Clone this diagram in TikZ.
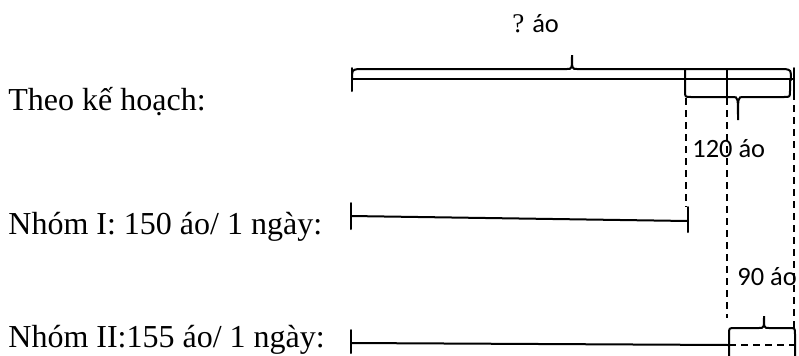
\documentclass[tikz,border=0pt]{standalone}
\usepackage{fontspec}
\setmainfont{Liberation Serif}
\newfontfamily\labelfont{Carlito}
\begin{document}
\begin{tikzpicture}[x=0.5pt,y=-0.5pt,
  seg/.style={line width=1pt, line cap=round},
  dashline/.style={line width=0.9pt, dash pattern=on 3.5pt off 2.5pt},
  rowtext/.style={anchor=base west, inner sep=0pt, font=\fontsize{16}{19}\selectfont},
  numtext/.style={anchor=base west, inner sep=0pt, font=\labelfont\fontsize{13.2}{16}\selectfont}]
\useasboundingbox (0,0) rectangle (799,355);

% row labels
\node[rowtext] (plan) at (8,110) {Theo kế hoạch:};
\node[rowtext] (g1) at (8,234) {Nhóm I: 150 áo/ 1 ngày:};
\node[rowtext] (g2) at (8,347) {Nhóm II:155 áo/ 1 ngày:};

% number labels
\node[numtext] (total) at (512,32) {{\rmfamily\fontsize{13.5}{16}\selectfont ?} áo};
\node[numtext] (n120) at (692,157) {120 áo};
\node[numtext] (n90) at (737,285) {90 áo};

% key points
\coordinate (A) at (352,79);
\coordinate (B) at (793,79);
\coordinate (C) at (686,79);
\coordinate (D) at (727,79);

% plan segment
\draw[seg] (A) -- (B);
\draw[seg] (352,68) -- (352,91);
\draw[seg] (794,68) -- (794,93);
\draw[seg] (727,69) -- (727,98);
% top brace
\draw[seg] (352,80) .. controls (352,70) .. (358,69) -- (567,69)
  .. controls (572,69) .. (572,55) .. controls (572,69) .. (577,69)
  -- (785,69) .. controls (791,70) .. (791,80);
% lower brace (120)
\draw[seg] (685,69) -- (685,91) .. controls (685,97) .. (691,97) -- (733,97)
  .. controls (738,97) .. (738,120) .. controls (738,97) .. (743,97)
  -- (784,97) .. controls (790,97) .. (790,91) -- (790,80);

% dashed guides
\draw[dashline] (686,98) -- (686,207);
\draw[dashline] (727,98) -- (727,318);
\draw[dashline] (794,93) -- (794,330);

% group I
\coordinate (E) at (351,216);
\coordinate (F) at (688,221);
\draw[seg] (E) -- (F);
\draw[seg] (351,203) -- (351,229);
\draw[seg] (688,207) -- (688,232);

% group II
\coordinate (G) at (351,343);
\coordinate (H) at (729,345);
\coordinate (K) at (795,345);
\draw[seg] (G) -- (H);
\draw[seg] (351,330) -- (351,353);
\draw[dashline] (H) -- (K);
\draw[seg] (729,356) -- (729,334) .. controls (729,328) .. (735,328) -- (759,328)
  .. controls (764,328) .. (764,316) .. controls (764,328) .. (769,328)
  -- (789,328) .. controls (795,328) .. (795,334) -- (795,356);
\end{tikzpicture}
\end{document}
